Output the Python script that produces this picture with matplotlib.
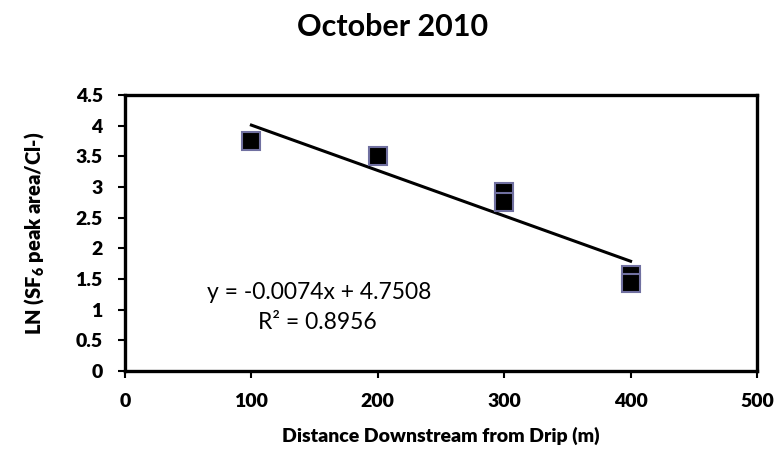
import numpy as np
import matplotlib
matplotlib.use('Agg')
import matplotlib.pyplot as plt

plt.rcParams['font.family'] = ['Lato', 'DejaVu Sans']
plt.rcParams['mathtext.fontset'] = 'custom'
plt.rcParams['mathtext.rm'] = 'Lato'
plt.rcParams['mathtext.bf'] = 'Lato:heavy'

# Datos
distancia = [100, 200, 300, 300, 400, 400]
ln_sf6 = [3.75, 3.50, 2.92, 2.76, 1.57, 1.44]

# Linea de tendencia (coeficientes impresos en la grafica)
pendiente = -0.0074
intercepto = 4.7508
r2 = 0.8956

fig = plt.figure(figsize=(7.74, 4.53), dpi=100)
ax = fig.add_axes([0.1615, 0.181, 0.8165, 0.609])

x_lin = np.array([min(distancia), max(distancia)])
ax.plot(x_lin, pendiente * x_lin + intercepto, color='black', lw=2.2)
ax.plot(distancia, ln_sf6, 's', ms=12.5, mfc='black', mec='#7070a0', mew=1.5)

ax.set_xlim(0, 500)
ax.set_ylim(0, 4.5)
ax.set_xticks(np.arange(0, 501, 100))
ax.set_yticks(np.arange(0, 4.51, 0.5))
ax.set_yticklabels(['0', '0.5', '1', '1.5', '2', '2.5', '3', '3.5', '4', '4.5'])

for s in ax.spines.values():
    s.set_linewidth(2.4)
ax.tick_params(direction='out', length=5, width=1.5, labelsize=14)
for lab in ax.get_xticklabels() + ax.get_yticklabels():
    lab.set_fontweight('heavy')
ax.tick_params(axis='x', pad=11)
ax.tick_params(axis='y', pad=11)

ax.set_xlabel('Distance Downstream from Drip (m)', fontsize=14, fontweight='heavy', labelpad=12)
ax.set_ylabel(r'LN (SF$_\mathbf{6}$ peak area/Cl-)', fontsize=14.5, fontweight='heavy', labelpad=21)
fig.text(0.507, 1 - 36 / 453, 'October 2010', fontsize=22, fontweight='bold', ha='center', va='baseline')

ax.text(154, 1.175, 'y = %.4fx + %.4f' % (pendiente, intercepto), fontsize=16.5, ha='center', va='baseline')
ax.text(152, 0.685, 'R² = %.4f' % r2, fontsize=16.5, ha='center', va='baseline')

fig.savefig('out.png', dpi=100)
